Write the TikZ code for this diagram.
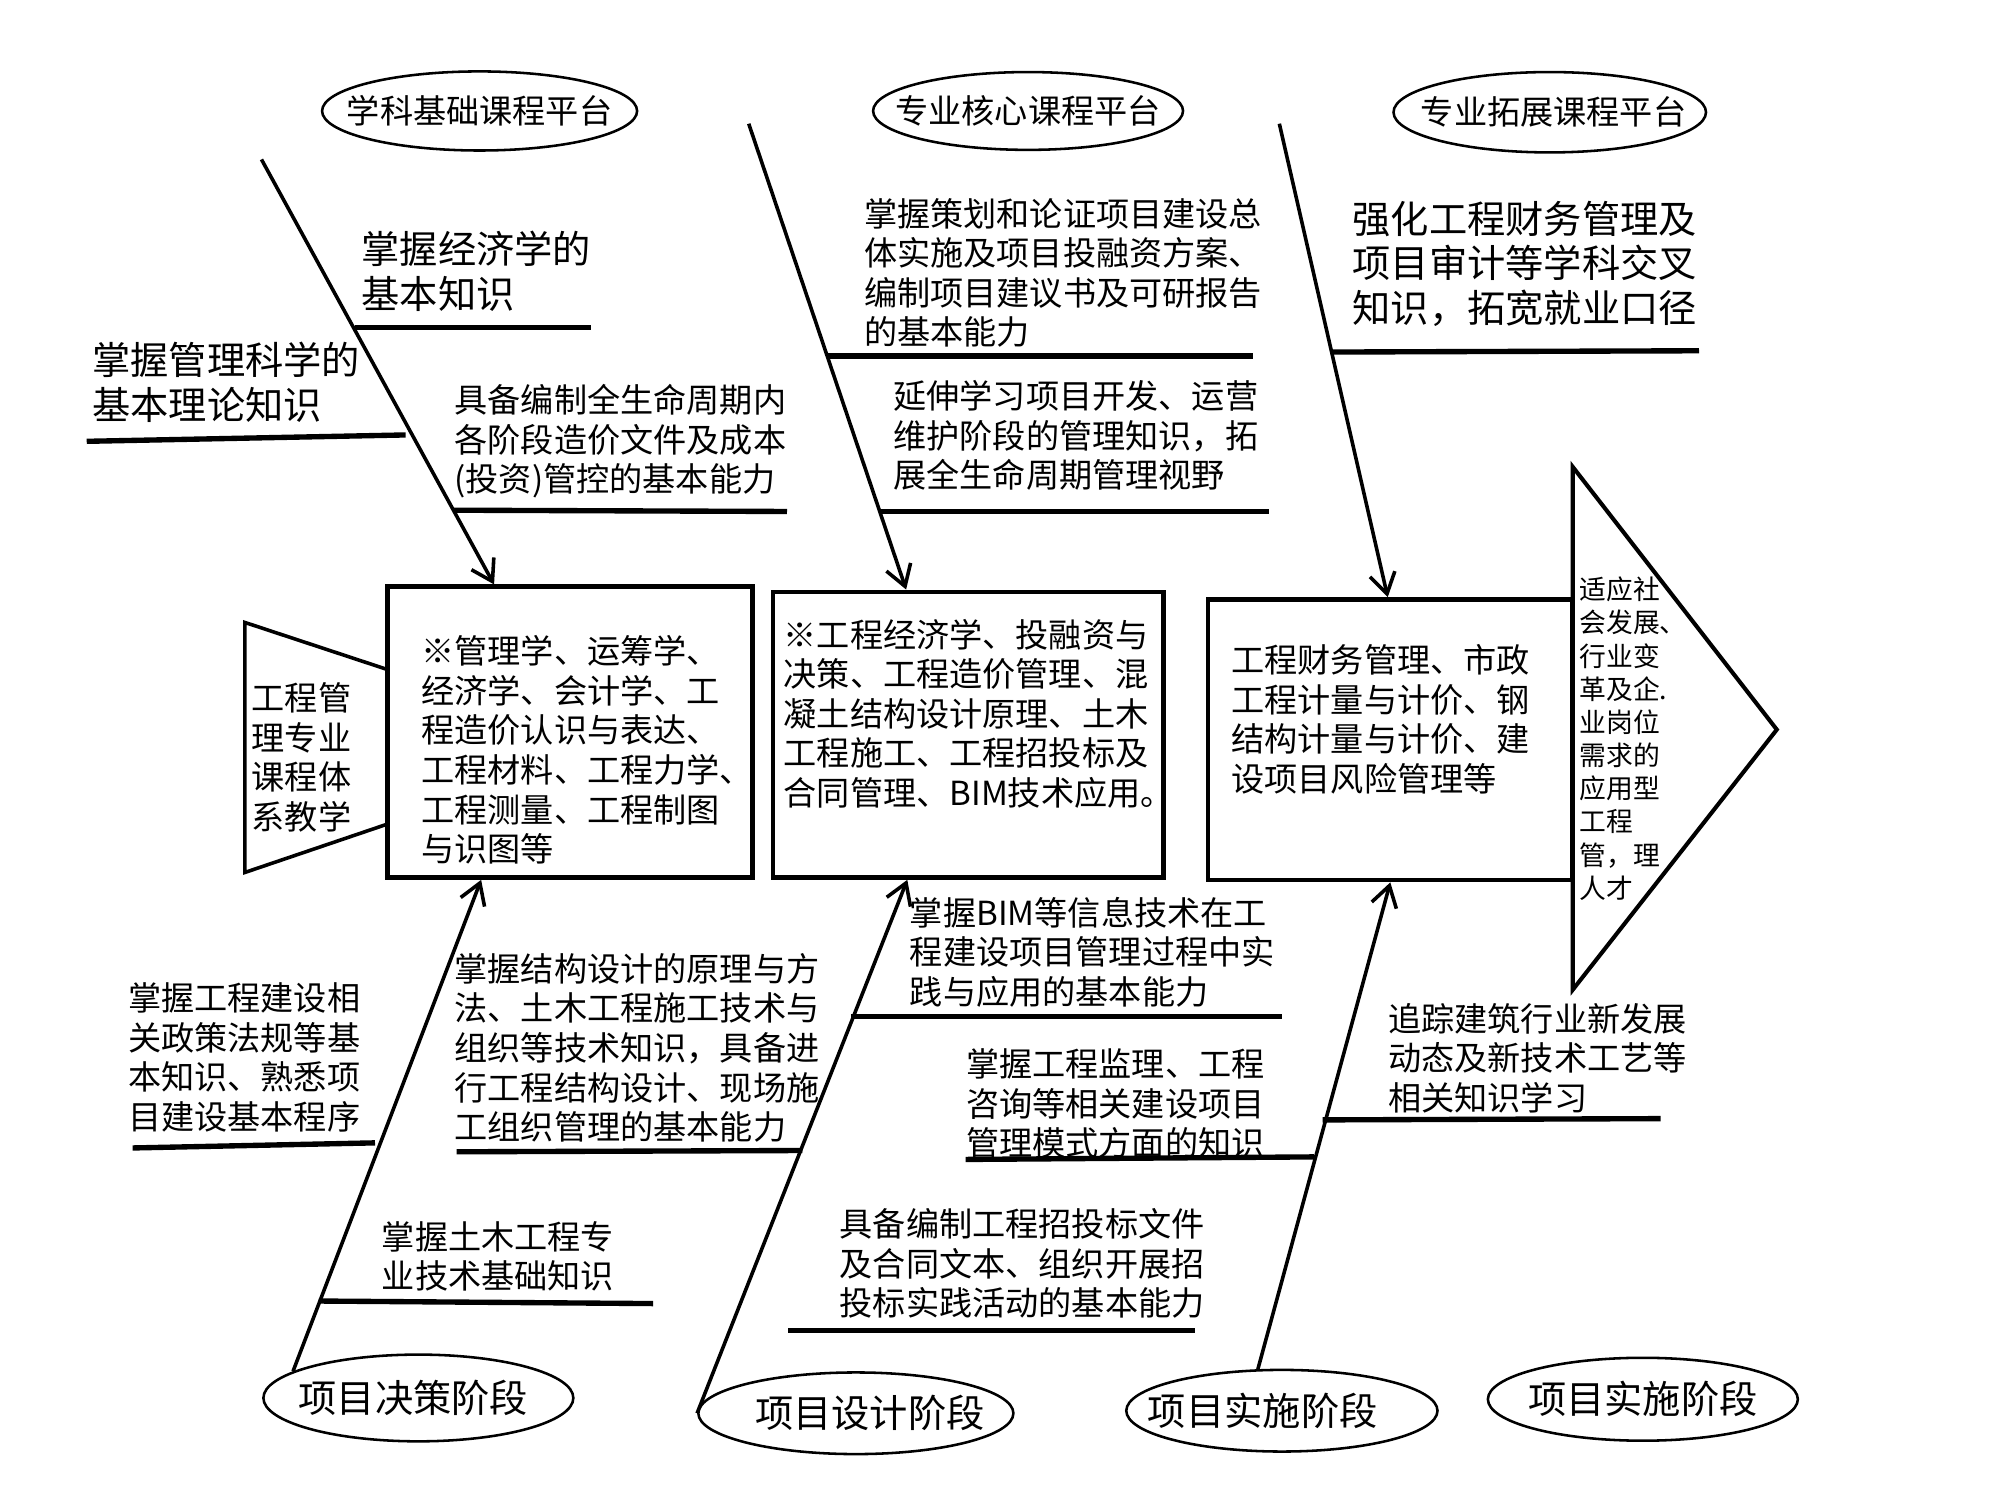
\documentclass[tikz,border=0pt]{standalone}
\usepackage{fontspec}
\setmainfont{Noto Sans CJK SC}
\usetikzlibrary{shapes.geometric,arrows.meta,calc}
\begin{document}
\begin{tikzpicture}[x=0.5pt,y=-0.5pt,
  bone/.style={line width=1.4pt,-{Straight Barb[length=8pt,width=10pt]}},
  plain/.style={line width=1.4pt},
  uline/.style={line width=2.1pt},
  boxst/.style={draw,line width=1.8pt,rectangle,inner sep=0pt},
  ell/.style={draw,ellipse,line width=1pt,inner xsep=-16pt,inner ysep=0pt},
  topell/.style={ell,font=\fontsize{13}{15}\selectfont},
  botell/.style={ell,font=\fontsize{15}{17}\selectfont},
  txt/.style={anchor=north west,inner sep=0pt,align=left,font=\fontsize{13}{15.5}\selectfont},
  bigtxt/.style={txt,font=\fontsize{15}{17.5}\selectfont},
  smalltxt/.style={txt,font=\fontsize{10.5}{13}\selectfont},
]
\fill[white] (0,0) rectangle (1568,1176);
\useasboundingbox (0,0) rectangle (1568,1176);

% ellipses
\node[topell,minimum width=123.5pt,minimum height=31pt] (e1) at (376,87) {学科基础课程平台};
\node[topell,minimum width=121.5pt,minimum height=30.5pt] (e2) at (806,87) {专业核心课程平台};
\node[topell,minimum width=122.5pt,minimum height=31.5pt] (e3) at (1215,88) {\hspace*{3pt}专业拓展课程平台};
\node[botell,minimum width=121.5pt,minimum height=34pt] (be1) at (328,1096) {项目决策阶段\hspace*{4pt}};
\node[botell,minimum width=123.5pt,minimum height=32pt] (be2) at (671,1108) {\hspace*{11pt}项目设计阶段};
\node[botell,minimum width=122pt,minimum height=32pt] (be3) at (1005,1106) {项目实施阶段\hspace*{15pt}};
\node[botell,minimum width=121.5pt,minimum height=32.5pt] (be4) at (1288,1097) {项目实施阶段};

% boxes
\node[boxst,minimum width=143pt,minimum height=114pt] (box1) at (447,574) {};
\node[boxst,minimum width=153pt,minimum height=112pt] (box2) at (759,576) {};
\node[boxst,minimum width=143pt,minimum height=110pt] (box3) at (1090,580) {};

% trapezoid and output triangle
\coordinate (tz1) at (304,525);
\coordinate (tz2) at (192,488);
\coordinate (tz3) at (192,684);
\coordinate (tz4) at (304,646);
\draw[plain,line join=miter] (tz1) -- (tz2) -- (tz3) -- (tz4);
\coordinate (tr1) at (1233,366);
\coordinate (tr2) at (1393,572);
\coordinate (tr3) at (1233,776);
\draw[line width=1.6pt,line join=miter] (tr1) -- (tr2) -- (tr3) -- cycle;

% bones
\coordinate (b1s) at (205,125);
\coordinate (b2s) at (587,97);
\coordinate (b3s) at (1003,97);
\draw[bone] (b1s) -- ($(box1.north west)!0.294!(box1.north east)$);
\draw[bone] (b2s) -- ($(box2.north west)!0.343!(box2.north east)$);
\draw[bone] (b3s) -- ($(box3.north west)!0.493!(box3.north east)$);
\draw[bone] (be1.168) -- ($(box1.south west)!0.259!(box1.south east)$);
\draw[bone] (be2.west) -- ($(box2.south west)!0.346!(box2.south east)$);
\draw[bone] (be3.120) -- ($(box3.south west)!0.5!(box3.south east)$);

% branch lines
\draw[uline] (278,257) -- (463,257);
\draw[uline] (68,346) -- (318,341);
\draw[uline] (355,400) -- (617,401);
\draw[uline] (648,279) -- (982,279);
\draw[uline] (689,401) -- (995,401);
\draw[uline] (1045,276) -- (1332,275);
\draw[uline] (104,900) -- (294,896);
\draw[uline] (358,903) -- (629,902);
\draw[uline] (250,1020) -- (512,1022);
\draw[uline] (667,797) -- (1005,797);
\draw[uline] (757,909) -- (1030,907);
\draw[uline] (618,1043) -- (937,1043);
\draw[uline] (1037,878) -- (1302,877);

% texts
\node[bigtxt] (t1) at (283,181) {掌握经济学的\\基本知识};
\node[bigtxt] (t2) at (72,268) {掌握管理科学的\\基本理论知识};
\node[txt] (t3) at (356,301) {具备编制全生命周期内\\各阶段造价文件及成本\\(投资)管控的基本能力};
\node[txt] (t4) at (677,155) {掌握策划和论证项目建设总\\体实施及项目投融资方案、\\编制项目建议书及可研报告\\的基本能力};
\node[txt] (t5) at (700,298) {延伸学习项目开发、运营\\维护阶段的管理知识，拓\\展全生命周期管理视野};
\node[bigtxt] (t6) at (1060,157) {强化工程财务管理及\\项目审计等学科交叉\\知识，拓宽就业口径};

\node[txt] (bx1t) at (330,498) {※管理学、运筹学、\\经济学、会计学、工\\程造价认识与表达、\\工程材料、工程力学、\\工程测量、工程制图\\与识图等};
\node[txt] (bx2t) at (614,485) {※工程经济学、投融资与\\决策、工程造价管理、混\\凝土结构设计原理、土木\\工程施工、工程招投标及\\合同管理、BIM技术应用。};
\node[txt] (bx3t) at (965,505) {工程财务管理、市政\\工程计量与计价、钢\\结构计量与计价、建\\设项目风险管理等};
\node[txt] (tzt) at (197,535) {工程管\\理专业\\课程体\\系教学};
\node[smalltxt] (trt) at (1238,452) {适应社\\会发展、\\行业变\\革及企.\\业岗位\\需求的\\应用型\\工程\\管，理\\人才};

\node[txt] (t7) at (100,770) {掌握工程建设相\\关政策法规等基\\本知识、熟悉项\\目建设基本程序};
\node[txt] (t8) at (356,747) {掌握结构设计的原理与方\\法、土木工程施工技术与\\组织等技术知识，具备进\\行工程结构设计、现场施\\工组织管理的基本能力};
\node[txt] (t9) at (299,957) {掌握土木工程专\\业技术基础知识};
\node[txt] (t10) at (713,703) {掌握BIM等信息技术在工\\程建设项目管理过程中实\\践与应用的基本能力};
\node[txt] (t11) at (757,822) {掌握工程监理、工程\\咨询等相关建设项目\\管理模式方面的知识};
\node[txt] (t12) at (658,947) {具备编制工程招投标文件\\及合同文本、组织开展招\\投标实践活动的基本能力};
\node[txt] (t13) at (1088,786) {追踪建筑行业新发展\\动态及新技术工艺等\\相关知识学习};
\end{tikzpicture}
\end{document}
